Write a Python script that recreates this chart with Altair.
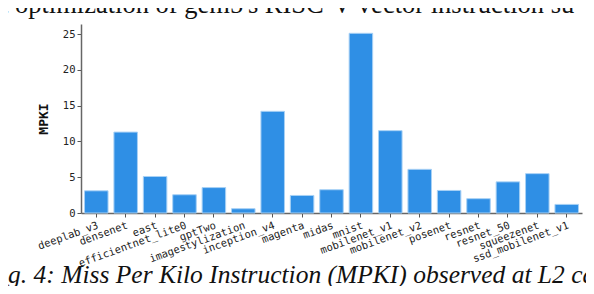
import altair as alt
import pandas as pd

benchmarks = ["deeplab_v3", "densenet", "east", "efficientnet_lite0", "gptTwo",
              "imagestylization", "inception_v4", "magenta", "midas", "mnist",
              "mobilenet_v1", "mobilenet_v2", "posenet", "resnet", "resnet_50",
              "squeezenet", "ssd_mobilenet_v1"]
mpki = [3.1, 11.3, 5.1, 2.55, 3.55, 0.6, 14.2, 2.45, 3.25, 25.1,
        11.5, 6.1, 3.15, 2.0, 4.35, 5.5, 1.2]
y_ticks = [0, 5, 10, 15, 20, 25]
top_text = ["t optimization of gem5's RISC-V vector instruction su"]
caption = ["ig. 4: Miss Per Kilo Instruction (MPKI) observed at L2 ca"]

df = pd.DataFrame({"benchmark": benchmarks, "mpki": mpki})

mono = "DejaVu Sans Mono"

bars = alt.Chart(df).mark_bar(
    color="#2f8fe5", stroke="#a8d1f5", strokeWidth=1
).encode(
    x=alt.X("benchmark:N", sort=benchmarks,
            scale=alt.Scale(paddingInner=0.2, paddingOuter=0.12),
            axis=alt.Axis(title=None, labelAngle=-20, labelAlign="right",
                          labelBaseline="top", labelFont=mono, labelFontSize=10.5,
                          labelColor="#222", labelPadding=3, tickSize=4,
                          tickColor="#555", domainColor="#666", domainWidth=1.5,
                          labelOverlap=False)),
    y=alt.Y("mpki:Q", scale=alt.Scale(domain=[0, 26.4], nice=False),
            axis=alt.Axis(title="MPKI", values=y_ticks, grid=False,
                          labelFont=mono, labelFontSize=10.5, labelColor="#222",
                          tickSize=4, tickColor="#555", labelPadding=2,
                          domainColor="#666", domainWidth=1.5,
                          titleFont=mono, titleFontSize=13, titleFontWeight="bold",
                          titleColor="#111", titlePadding=12)),
)

top = alt.Chart(pd.DataFrame({"t": top_text})).mark_text(
    font="Liberation Serif", fontSize=26.5, align="left", baseline="alphabetic",
    color="#111"
).encode(text="t:N", x=alt.value(-80), y=alt.value(-11))

cap = alt.Chart(pd.DataFrame({"t": caption})).mark_text(
    font="Liberation Serif", fontSize=25.5, fontStyle="italic", align="left",
    baseline="alphabetic", color="#111"
).encode(text="t:N", x=alt.value(-80), y=alt.value(259))

chart = alt.layer(bars, top, cap).properties(
    width=501, height=189,
    autosize=alt.AutoSizeParams(type="none"),
    padding={"left": 73, "top": 16, "right": 4, "bottom": 73},
).configure_view(stroke=None)

chart.save("out.html", embed_options={"renderer": "svg", "actions": False})
